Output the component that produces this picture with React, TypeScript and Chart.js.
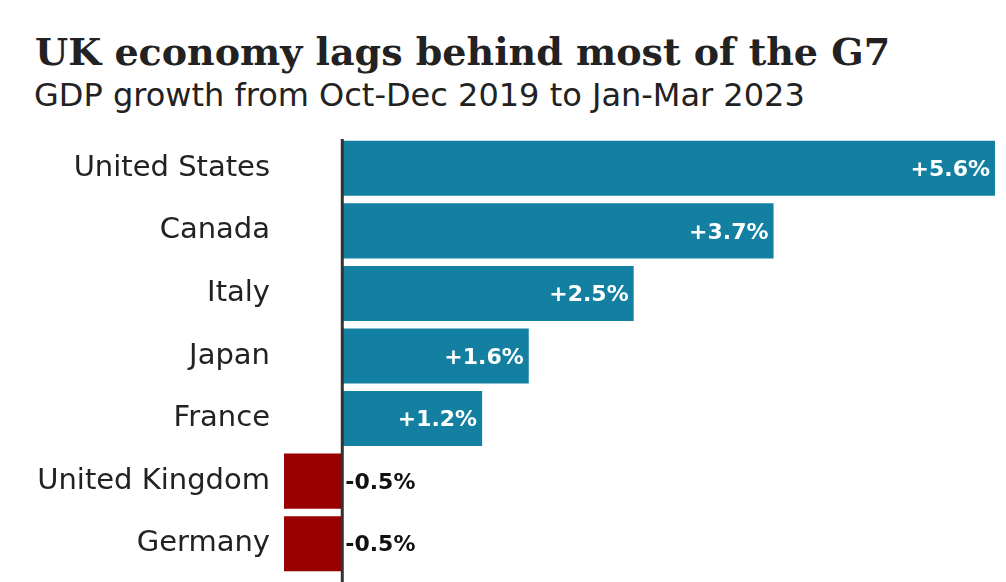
import React, { useEffect, useRef } from "react";
import { Chart, registerables } from "chart.js";

Chart.register(...registerables);

const countries = ["United States", "Canada", "Italy", "Japan", "France", "United Kingdom", "Germany"];
const growth = [5.6, 3.7, 2.5, 1.6, 1.2, -0.5, -0.5];
const valueLabels = ["+5.6%", "+3.7%", "+2.5%", "+1.6%", "+1.2%", "-0.5%", "-0.5%"];
const positiveColor = "#1380a1";
const negativeColor = "#990000";

const SANS = '"DejaVu Sans", "Noto Sans", sans-serif';

const valueLabelPlugin = {
  id: "valueLabels",
  afterDatasetsDraw(chart: any) {
    const ctx = chart.ctx;
    const meta = chart.getDatasetMeta(0);
    const xs = chart.scales.x;
    const zero = xs.getPixelForValue(0);
    ctx.save();
    ctx.font = `bold 22px ${SANS}`;
    ctx.textBaseline = "middle";
    meta.data.forEach((bar: any, i: number) => {
      const v = growth[i];
      if (v >= 0) {
        ctx.fillStyle = "#ffffff";
        ctx.textAlign = "right";
        ctx.fillText(valueLabels[i], bar.x - 5, bar.y + 2);
      } else {
        ctx.fillStyle = "#111111";
        ctx.textAlign = "left";
        ctx.fillText(valueLabels[i], zero + 3, bar.y + 2);
      }
    });
    ctx.strokeStyle = "#333333";
    ctx.lineWidth = 3;
    ctx.beginPath();
    ctx.moveTo(zero, chart.chartArea.top + 2);
    ctx.lineTo(zero, chart.height);
    ctx.stroke();
    ctx.restore();
  },
};

export default function App() {
  const canvasRef = useRef<HTMLCanvasElement | null>(null);

  useEffect(() => {
    if (!canvasRef.current) return;
    const chart = new Chart(canvasRef.current, {
      type: "bar",
      data: {
        labels: countries,
        datasets: [
          {
            data: growth,
            backgroundColor: growth.map((v) => (v >= 0 ? positiveColor : negativeColor)),
            borderWidth: 0,
            barPercentage: 0.88,
            categoryPercentage: 1,
          },
        ],
      },
      options: {
        indexAxis: "y",
        animation: false,
        responsive: true,
        maintainAspectRatio: false,
        layout: { padding: { top: 137, bottom: 7, right: 11, left: 0 } },
        plugins: {
          legend: { display: false },
          tooltip: { enabled: false },
          title: { display: false },
        },
        scales: {
          x: {
            display: false,
            min: Math.min(...growth),
            max: Math.max(...growth),
          },
          y: {
            afterFit(scale: any) {
              scale.width = 284;
              scale.paddingTop = 0;
              scale.paddingBottom = 0;
            },
            grid: { display: false, drawTicks: false },
            border: { display: false },
            ticks: {
              color: "#222222",
              padding: 14,
              font: { family: SANS, size: 29 },
            },
          },
        },
      },
      plugins: [valueLabelPlugin],
    });
    return () => chart.destroy();
  }, []);

  return (
    <div
      style={{
        position: "fixed",
        left: 0,
        top: 0,
        width: 1006,
        height: 582,
        background: "#ffffff",
        overflow: "hidden",
      }}
    >
      <div
        style={{
          position: "absolute",
          left: 35,
          top: 28,
          fontFamily: '"DejaVu Serif", serif',
          fontWeight: "bold",
          fontSize: 38,
          color: "#222222",
          whiteSpace: "nowrap",
          lineHeight: "48px",
        }}
      >
        UK economy lags behind most of the G7
      </div>
      <div
        style={{
          position: "absolute",
          left: 34,
          top: 75,
          fontFamily: SANS,
          fontSize: 32,
          color: "#222222",
          whiteSpace: "nowrap",
          lineHeight: "40px",
        }}
      >
        GDP growth from Oct-Dec 2019 to Jan-Mar 2023
      </div>
      <div style={{ position: "absolute", left: 0, top: 0, width: 1006, height: 582 }}>
        <canvas ref={canvasRef} />
      </div>
    </div>
  );
}
